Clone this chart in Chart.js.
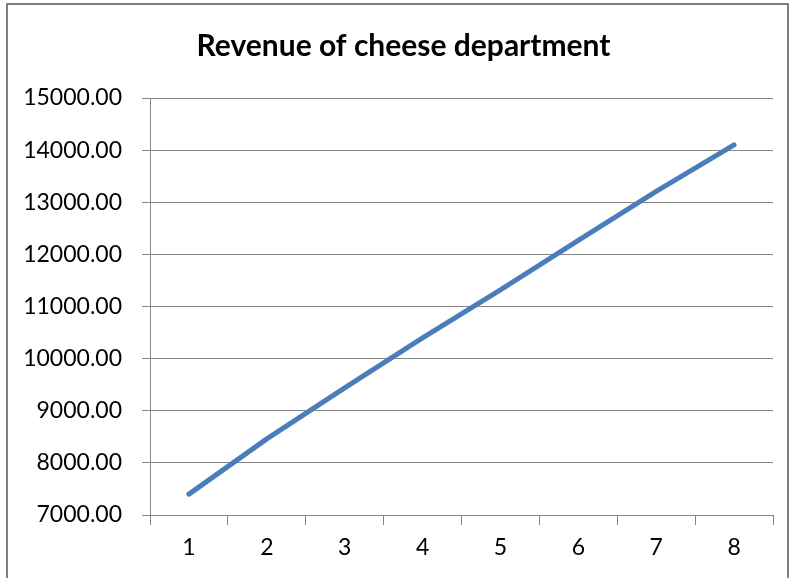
<!DOCTYPE html>
<html>
<head>
<meta charset="utf-8">
<script src="https://cdn.jsdelivr.net/npm/chart.js@4/dist/chart.umd.min.js"></script>
<style>
  html, body { margin: 0; padding: 0; background: #ffffff; }
  #wrap { width: 792px; height: 578px; position: relative; }
</style>
</head>
<body>
<div id="wrap"><canvas id="c" width="792" height="578"></canvas></div>
<script>
// Monthly periods and revenue of the cheese department
const categories = ['1', '2', '3', '4', '5', '6', '7', '8'];
const revenue = [7400, 8460, 9440, 10400, 11320, 12270, 13210, 14100];
const yTicks = [7000, 8000, 9000, 10000, 11000, 12000, 13000, 14000, 15000];
const chartTitle = 'Revenue of cheese department';

const GRID = '#878787';
const FONT = 'Lato, "Open Sans", sans-serif';

// Grey frame around the whole chart, on a white background
const framePlugin = {
  id: 'frame',
  beforeDraw(chart) {
    const ctx = chart.ctx;
    ctx.save();
    ctx.fillStyle = '#ffffff';
    ctx.fillRect(0, 0, chart.width, chart.height);
    ctx.strokeStyle = '#7f7f7f';
    ctx.lineWidth = 2;
    ctx.strokeRect(7, 4, 781, 600);
    ctx.restore();
  }
};

// Centre the title over the framed chart rather than the padded box
const titleShift = {
  id: 'titleShift',
  afterLayout(chart) {
    const t = chart.titleBlock;
    if (t) { t.left += 12; t.right += 12; }
  }
};

new Chart(document.getElementById('c'), {
  type: 'line',
  data: {
    labels: categories,
    datasets: [{
      label: 'Revenue',
      data: revenue,
      borderColor: '#4a7ebb',
      backgroundColor: '#4a7ebb',
      borderWidth: 5,
      borderCapStyle: 'round',
      borderJoinStyle: 'round',
      pointRadius: 0,
      pointHoverRadius: 0,
      tension: 0,
      fill: false
    }]
  },
  options: {
    responsive: false,
    animation: false,
    devicePixelRatio: 1,
    layout: { padding: { left: 10, right: 19, top: 0, bottom: 0 } },
    plugins: {
      legend: { display: false },
      tooltip: { enabled: false },
      title: {
        display: true,
        text: chartTitle,
        color: '#000000',
        font: { family: FONT, size: 30, weight: 'bold', lineHeight: 1.2 },
        padding: { top: 28, bottom: 34 }
      }
    },
    scales: {
      x: {
        type: 'category',
        offset: true,
        grid: {
          offset: true,
          drawOnChartArea: false,
          drawTicks: true,
          tickLength: 10,
          tickColor: GRID,
          lineWidth: 1
        },
        border: { display: true, color: GRID, width: 1 },
        ticks: {
          color: '#000000',
          font: { family: FONT, size: 23 },
          padding: 9,
          maxRotation: 0
        },
        afterFit(scale) { scale.height = 63; }
      },
      y: {
        min: yTicks[0],
        max: yTicks[yTicks.length - 1],
        afterBuildTicks(scale) { scale.ticks = yTicks.map(v => ({ value: v })); },
        grid: {
          color: GRID,
          lineWidth: 1,
          drawTicks: true,
          tickLength: 8,
          tickColor: GRID
        },
        border: { display: true, color: GRID, width: 1 },
        ticks: {
          color: '#000000',
          font: { family: FONT, size: 23 },
          padding: 20,
          callback: v => Number(v).toFixed(2)
        },
        afterFit(scale) { scale.width = 140; }
      }
    }
  },
  plugins: [framePlugin, titleShift]
});
</script>
</body>
</html>
